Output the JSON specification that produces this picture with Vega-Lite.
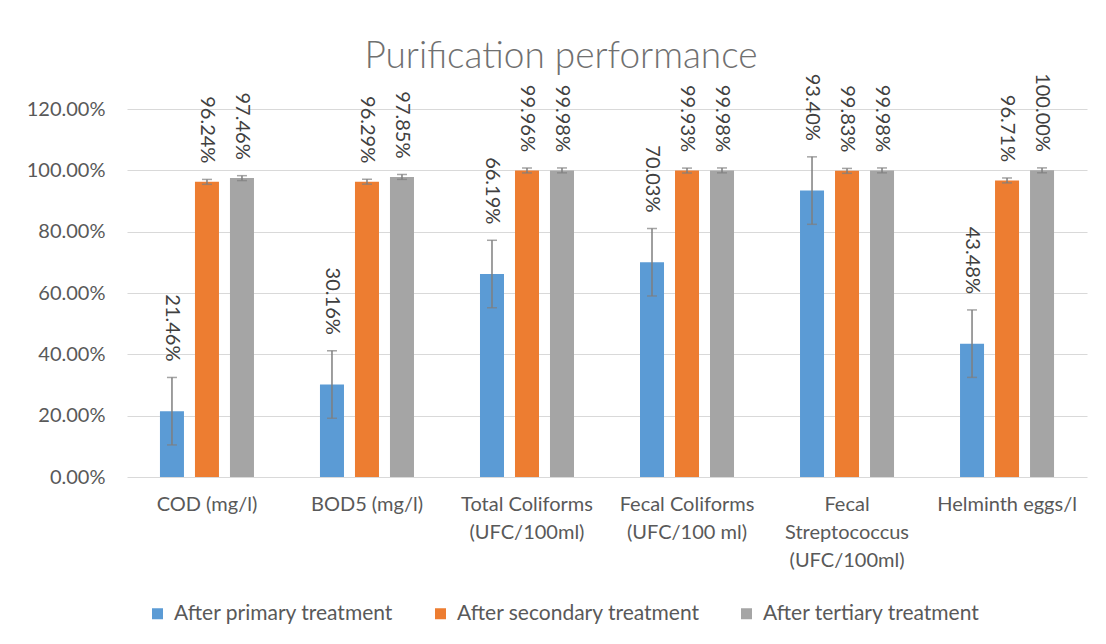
{
  "$schema": "https://vega.github.io/schema/vega-lite/v6.json",
  "autosize": {"type": "none"},
  "padding": {"left": 127, "top": 109, "right": 19, "bottom": 167},
  "width": 960,
  "height": 368,
  "background": "white",
  "title": {
    "text": "Purification performance",
    "font": "Lato",
    "fontSize": 37,
    "fontWeight": 300,
    "color": "#707070",
    "anchor": "middle",
    "frame": "group",
    "dx": -46,
    "offset": -3
  },
  "data": {
    "values": [
      {"cat": "COD (mg/l)", "series": "After primary treatment", "value": 0.2146, "low": 0.1046, "high": 0.3246},
      {"cat": "COD (mg/l)", "series": "After secondary treatment", "value": 0.9624, "low": 0.9544, "high": 0.9704},
      {"cat": "COD (mg/l)", "series": "After tertiary treatment", "value": 0.9746, "low": 0.9666, "high": 0.9826},
      {"cat": "BOD5 (mg/l)", "series": "After primary treatment", "value": 0.3016, "low": 0.1916, "high": 0.4116},
      {"cat": "BOD5 (mg/l)", "series": "After secondary treatment", "value": 0.9629, "low": 0.9549, "high": 0.9709},
      {"cat": "BOD5 (mg/l)", "series": "After tertiary treatment", "value": 0.9785, "low": 0.9705, "high": 0.9865},
      {"cat": "Total Coliforms|(UFC/100ml)", "series": "After primary treatment", "value": 0.6619, "low": 0.5519, "high": 0.7719},
      {"cat": "Total Coliforms|(UFC/100ml)", "series": "After secondary treatment", "value": 0.9996, "low": 0.9916, "high": 1.0076},
      {"cat": "Total Coliforms|(UFC/100ml)", "series": "After tertiary treatment", "value": 0.9998, "low": 0.9918, "high": 1.0078},
      {"cat": "Fecal Coliforms|(UFC/100 ml)", "series": "After primary treatment", "value": 0.7003, "low": 0.5903, "high": 0.8103},
      {"cat": "Fecal Coliforms|(UFC/100 ml)", "series": "After secondary treatment", "value": 0.9993, "low": 0.9913, "high": 1.0073},
      {"cat": "Fecal Coliforms|(UFC/100 ml)", "series": "After tertiary treatment", "value": 0.9998, "low": 0.9918, "high": 1.0078},
      {"cat": "Fecal|Streptococcus|(UFC/100ml)", "series": "After primary treatment", "value": 0.934, "low": 0.824, "high": 1.044},
      {"cat": "Fecal|Streptococcus|(UFC/100ml)", "series": "After secondary treatment", "value": 0.9983, "low": 0.9903, "high": 1.0063},
      {"cat": "Fecal|Streptococcus|(UFC/100ml)", "series": "After tertiary treatment", "value": 0.9998, "low": 0.9918, "high": 1.0078},
      {"cat": "Helminth eggs/l", "series": "After primary treatment", "value": 0.4348, "low": 0.3248, "high": 0.5448},
      {"cat": "Helminth eggs/l", "series": "After secondary treatment", "value": 0.9671, "low": 0.9591, "high": 0.9751},
      {"cat": "Helminth eggs/l", "series": "After tertiary treatment", "value": 1.0, "low": 0.992, "high": 1.008}
    ]
  },
  "encoding": {
    "x": {
      "field": "cat",
      "type": "nominal",
      "sort": null,
      "scale": {"paddingInner": 0.4125, "paddingOuter": 0.206},
      "axis": {
        "title": null,
        "labelAngle": 0,
        "labelExpr": "split(datum.label, '|')",
        "labelLineHeight": 28,
        "labelPadding": 17,
        "labelBaseline": "top",
        "domain": false,
        "ticks": false,
        "labelFont": "Lato",
        "labelFontSize": 20,
        "labelColor": "#595959",
        "labelLimit": 300
      }
    },
    "xOffset": {
      "field": "series",
      "type": "nominal",
      "sort": ["After primary treatment", "After secondary treatment", "After tertiary treatment"],
      "scale": {"paddingInner": 0.314, "paddingOuter": 0}
    }
  },
  "layer": [
    {
      "mark": {"type": "bar"},
      "encoding": {
        "y": {
          "field": "value",
          "type": "quantitative",
          "scale": {"domain": [0, 1.2], "nice": false},
          "axis": {
            "title": null,
            "format": ".2%",
            "values": [0, 0.2, 0.4, 0.6, 0.8, 1.0, 1.2],
            "gridColor": "#d9d9d9",
            "gridWidth": 1.2,
            "domain": false,
            "ticks": false,
            "labelPadding": 22,
            "labelFont": "Lato",
            "labelFontSize": 20,
            "labelColor": "#595959"
          }
        },
        "color": {
          "field": "series",
          "type": "nominal",
          "sort": ["After primary treatment", "After secondary treatment", "After tertiary treatment"],
          "scale": {
            "domain": ["After primary treatment", "After secondary treatment", "After tertiary treatment"],
            "range": ["#5B9BD5", "#ED7D31", "#A5A5A5"]
          },
          "legend": {
            "title": null,
            "orient": "none",
            "direction": "horizontal",
            "legendX": 20,
            "legendY": 494,
            "symbolType": "square",
            "symbolSize": 121,
            "symbolStrokeWidth": 0,
            "labelFont": "Lato",
            "labelFontSize": 21,
            "labelColor": "#595959",
            "columnPadding": 36,
            "labelOffset": 6,
            "labelLimit": 400,
            "padding": 0
          }
        }
      }
    },
    {
      "mark": {"type": "rule", "color": "#7f7f7f", "strokeWidth": 1.5},
      "encoding": {
        "y": {"field": "low", "type": "quantitative"},
        "y2": {"field": "high"}
      }
    },
    {
      "mark": {"type": "tick", "color": "#7f7f7f", "thickness": 1.5, "size": 10},
      "encoding": {
        "y": {"field": "low", "type": "quantitative"}
      }
    },
    {
      "mark": {"type": "tick", "color": "#7f7f7f", "thickness": 1.5, "size": 10},
      "encoding": {
        "y": {"field": "high", "type": "quantitative"}
      }
    },
    {
      "mark": {
        "type": "text",
        "angle": 90,
        "align": "right",
        "baseline": "middle",
        "dx": -16,
        "font": "Lato",
        "fontSize": 20,
        "color": "#404040"
      },
      "encoding": {
        "y": {"field": "high", "type": "quantitative"},
        "text": {"field": "value", "type": "quantitative", "format": ".2%"}
      }
    }
  ],
  "config": {
    "view": {"stroke": null}
  }
}
